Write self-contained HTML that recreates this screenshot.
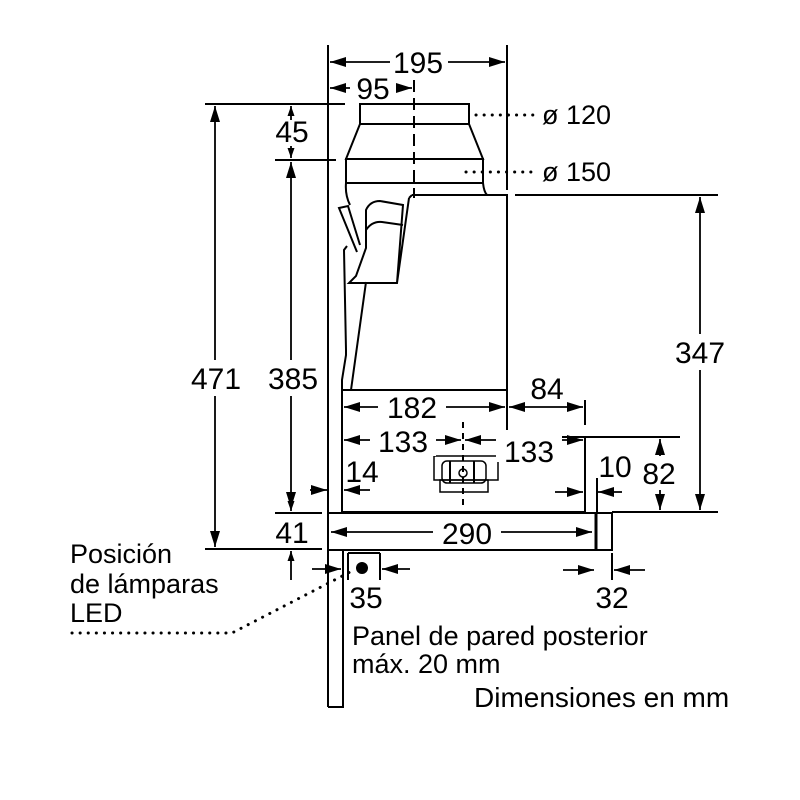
<!DOCTYPE html>
<html><head><style>body{margin:0;background:#fff}svg{display:block}</style></head><body>
<svg width="800" height="800" viewBox="0 0 800 800" xmlns="http://www.w3.org/2000/svg" font-family="Liberation Sans, sans-serif" font-size="30" fill="#000">
<defs>
<marker id="a" viewBox="0 0 10 10" refX="10" refY="5" markerWidth="10" markerHeight="10" markerUnits="userSpaceOnUse" orient="auto-start-reverse"><path d="M0,1.5 L10,5 L0,8.5z" fill="#000"/></marker>
<marker id="b" viewBox="0 0 16 10" refX="16" refY="5" markerWidth="16" markerHeight="10" markerUnits="userSpaceOnUse" orient="auto-start-reverse"><path d="M0,0 L16,5 L0,10z" fill="#000"/></marker>
</defs>
<g stroke="#000" stroke-width="2" fill="none">
<line x1="328" y1="45" x2="328" y2="707"/>
<polyline points="343,550 343,707 328,707"/>
<rect x="360" y="104" width="109" height="20"/>
<path d="M360,124 L346,159 L483,159 L469,124"/>
<rect x="346" y="159" width="137" height="24"/>
<path d="M346,183 Q345,195 350,205 M483,183 Q484,192 487,195"/>
<path d="M412,195 L507,195 L507,390 L342,390 L342,380 L346,355 L346,350 L344,250 L347,246 M351,390 L366,282"/>
<path d="M409,198 L412,195 M409,198 L397,283 L349,283 L356,276 L366,248 L366,210 Q370,201 380,201 L403,205 L397,283"/>
<path d="M366,230 Q372,221 382,222 L403,225"/>
<path d="M357,252 L339,208 L348,206 L360,245"/>
<polyline points="342,390 342,512 585,512 585,437 507,437 507,390"/>
<rect x="328" y="513" width="284" height="37"/>
<line x1="596" y1="513" x2="596" y2="550" stroke-width="3"/>
<rect x="434" y="456" width="64" height="24" stroke-width="1.5"/>
<rect x="440" y="480" width="48" height="12" stroke-width="1.5"/>
<rect x="442" y="461" width="44" height="22" rx="5" stroke-width="1.5"/>
<line x1="450" y1="461" x2="450" y2="483"/><line x1="474" y1="461" x2="474" y2="483"/>
<circle cx="463" cy="473" r="4" stroke-width="1.5"/>
<line x1="463" y1="422" x2="463" y2="505" stroke-dasharray="6,5"/>
<line x1="414" y1="80" x2="414" y2="198" stroke-dasharray="12,6"/>
<line x1="507" y1="45" x2="507" y2="190"/>
<line x1="205" y1="104" x2="345" y2="104"/>
<line x1="275" y1="160" x2="336" y2="160"/>
<line x1="205" y1="549" x2="322" y2="549"/>
<line x1="275" y1="513" x2="322" y2="513"/>
<line x1="515" y1="195" x2="718" y2="195"/>
<line x1="612" y1="512" x2="718" y2="512"/>
<line x1="585" y1="437" x2="680" y2="437"/>
<line x1="585" y1="400" x2="585" y2="425"/>
<line x1="597" y1="478" x2="597" y2="512"/>
<line x1="348" y1="553" x2="348" y2="580"/><line x1="380" y1="553" x2="380" y2="580"/>
<line x1="348" y1="553" x2="380" y2="553"/>
<line x1="612" y1="553" x2="612" y2="580"/>
</g>
<circle cx="362" cy="568" r="6"/>
<g stroke="#000" stroke-width="1.8" fill="none">
<line x1="330" y1="62" x2="505" y2="62" marker-start="url(#b)" marker-end="url(#b)"/>
<line x1="330" y1="88" x2="412" y2="88" marker-start="url(#b)" marker-end="url(#b)"/>
<line x1="215" y1="106" x2="215" y2="547" marker-start="url(#b)" marker-end="url(#b)"/>
<line x1="291" y1="162" x2="291" y2="508" marker-start="url(#b)" marker-end="url(#b)"/>
<line x1="291" y1="106" x2="291" y2="120" marker-start="url(#a)"/>
<line x1="291" y1="146" x2="291" y2="158" marker-end="url(#a)"/>
<line x1="291" y1="498" x2="291" y2="511" marker-end="url(#a)"/>
<line x1="291" y1="580" x2="291" y2="551" marker-end="url(#a)"/>
<line x1="700" y1="197" x2="700" y2="510" marker-start="url(#b)" marker-end="url(#b)"/>
<line x1="660" y1="439" x2="660" y2="510" marker-start="url(#b)" marker-end="url(#b)"/>
<line x1="344" y1="407" x2="505" y2="407" marker-start="url(#b)" marker-end="url(#b)"/>
<line x1="509" y1="407" x2="583" y2="407" marker-start="url(#b)" marker-end="url(#b)"/>
<line x1="344" y1="440" x2="461" y2="440" marker-start="url(#b)" marker-end="url(#b)"/>
<line x1="465" y1="440" x2="583" y2="440" marker-start="url(#b)" marker-end="url(#b)"/>
<line x1="331" y1="532" x2="592" y2="532" marker-start="url(#b)" marker-end="url(#b)"/>
<line x1="310" y1="490" x2="327" y2="490" marker-end="url(#b)"/>
<line x1="370" y1="490" x2="344" y2="490" marker-end="url(#b)"/>
<line x1="555" y1="492" x2="583" y2="492" marker-end="url(#b)"/>
<line x1="622" y1="492" x2="598" y2="492" marker-end="url(#b)"/>
<line x1="312" y1="569" x2="341" y2="569" marker-end="url(#b)"/>
<line x1="410" y1="569" x2="382" y2="569" marker-end="url(#b)"/>
<line x1="563" y1="570" x2="594" y2="570" marker-end="url(#b)"/>
<line x1="645" y1="570" x2="614" y2="570" marker-end="url(#b)"/>
</g>
<g fill="#fff">
<rect x="390" y="46" width="58" height="30"/>
<rect x="350" y="74" width="46" height="28"/>
<rect x="378" y="392" width="68" height="30"/>
<rect x="370" y="426" width="66" height="30"/>
<rect x="496" y="430" width="66" height="32"/>
<rect x="433" y="516" width="68" height="32"/>
<rect x="190" y="360" width="52" height="36"/>
<rect x="266" y="360" width="54" height="36"/>
<rect x="674" y="334" width="54" height="36"/>
<rect x="642" y="456" width="36" height="34"/>
</g>
<g stroke="#000" stroke-width="3" stroke-dasharray="0.1,8" stroke-linecap="round" fill="none">
<line x1="476" y1="115" x2="535" y2="115"/>
<line x1="466" y1="172" x2="535" y2="172"/>
<path d="M72,633 L232,633 L350,572"/>
</g>
<text x="418" y="73" text-anchor="middle">195</text>
<text x="373" y="99" text-anchor="middle">95</text>
<text x="292" y="142" text-anchor="middle">45</text>
<text x="216" y="389" text-anchor="middle">471</text>
<text x="293" y="389" text-anchor="middle">385</text>
<text x="700" y="363" text-anchor="middle">347</text>
<text x="412" y="418" text-anchor="middle">182</text>
<text x="547" y="399" text-anchor="middle">84</text>
<text x="403" y="452" text-anchor="middle">133</text>
<text x="529" y="462" text-anchor="middle">133</text>
<text x="362" y="482" text-anchor="middle">14</text>
<text x="615" y="477" text-anchor="middle">10</text>
<text x="659" y="484" text-anchor="middle">82</text>
<text x="467" y="544" text-anchor="middle">290</text>
<text x="292" y="543" text-anchor="middle">41</text>
<text x="366" y="608" text-anchor="middle">35</text>
<text x="612" y="608" text-anchor="middle">32</text>
<text x="542" y="124" font-size="27">ø 120</text>
<text x="542" y="181" font-size="27">ø 150</text>
<text x="70" y="563" font-size="27">Posición</text>
<text x="70" y="593" font-size="27">de lámparas</text>
<text x="70" y="622" font-size="27">LED</text>
<text x="352" y="645" font-size="27">Panel de pared posterior</text>
<text x="352" y="673" font-size="27">máx. 20 mm</text>
<text x="474" y="707" font-size="28">Dimensiones en mm</text>
</svg>
</body></html>
